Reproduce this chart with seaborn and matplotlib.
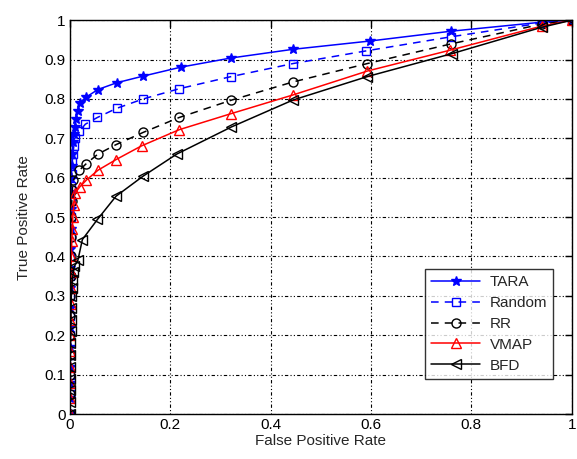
import numpy as np
import matplotlib
matplotlib.use("Agg")
import matplotlib.pyplot as plt
import seaborn as sns

# ROC points (dense threshold points near FPR = 0)
tara_fpr = [0, 0.0001, 0.0002, 0.0003, 0.0004, 0.0005, 0.0006, 0.0008, 0.001, 0.0012, 0.0015, 0.002,
            0.0025, 0.003, 0.004, 0.005, 0.006, 0.008, 0.01, 0.012, 0.016, 0.02,
            0.033, 0.056, 0.093, 0.146, 0.222, 0.321, 0.444, 0.597, 0.759, 0.94, 1.0]
tara_tpr = [0, 0.04, 0.08, 0.12, 0.17, 0.22, 0.27, 0.32, 0.37, 0.42, 0.47, 0.52,
            0.56, 0.6, 0.63, 0.66, 0.69, 0.71, 0.73, 0.75, 0.77, 0.79,
            0.805, 0.824, 0.841, 0.858, 0.881, 0.904, 0.926, 0.947, 0.972, 0.995, 1.0]

random_fpr = [0, 0.0001, 0.0002, 0.0003, 0.0004, 0.0006, 0.0008, 0.001, 0.0013, 0.0016, 0.002, 0.0025,
              0.003, 0.004, 0.005, 0.006, 0.008, 0.01,
              0.019, 0.031, 0.055, 0.093, 0.146, 0.218, 0.322, 0.445, 0.59, 0.76, 0.94, 1.0]
random_tpr = [0, 0.05, 0.1, 0.15, 0.2, 0.25, 0.3, 0.35, 0.4, 0.45, 0.5, 0.54,
              0.58, 0.61, 0.64, 0.66, 0.68, 0.70,
              0.718, 0.736, 0.753, 0.776, 0.80, 0.826, 0.857, 0.89, 0.922, 0.958, 0.993, 1.0]

rr_fpr = [0, 0.0002, 0.0004, 0.0006, 0.0008, 0.001, 0.0013, 0.0016, 0.002, 0.0025, 0.003, 0.004,
          0.005, 0.007,
          0.019, 0.033, 0.056, 0.092, 0.146, 0.218, 0.322, 0.444, 0.593, 0.76, 0.94, 1.0]
rr_tpr = [0, 0.05, 0.1, 0.15, 0.2, 0.25, 0.3, 0.35, 0.4, 0.45, 0.5, 0.54,
          0.57, 0.594,
          0.619, 0.636, 0.66, 0.684, 0.715, 0.753, 0.797, 0.843, 0.89, 0.94, 0.99, 1.0]

vmap_fpr = [0, 0.0002, 0.0004, 0.0006, 0.0008, 0.001, 0.0013, 0.0016, 0.002, 0.0025, 0.003, 0.004,
            0.005, 0.006, 0.008, 0.01,
            0.02, 0.033, 0.056, 0.092, 0.143, 0.218, 0.322, 0.444, 0.593, 0.758, 0.94, 1.0]
vmap_tpr = [0, 0.04, 0.08, 0.12, 0.16, 0.2, 0.24, 0.28, 0.32, 0.36, 0.4, 0.44,
            0.47, 0.5, 0.53, 0.56,
            0.577, 0.594, 0.619, 0.646, 0.681, 0.722, 0.763, 0.81, 0.871, 0.924, 0.985, 1.0]

bfd_fpr = [0, 0.0002, 0.0004, 0.0006, 0.0008, 0.001, 0.0013, 0.0016, 0.002, 0.0025, 0.003, 0.004,
           0.005, 0.007, 0.009,
           0.016, 0.025, 0.055, 0.092, 0.146, 0.213, 0.322, 0.444, 0.593, 0.761, 0.94, 1.0]
bfd_tpr = [0, 0.03, 0.06, 0.09, 0.12, 0.15, 0.18, 0.21, 0.24, 0.27, 0.3, 0.32,
           0.34, 0.36, 0.375,
           0.39, 0.443, 0.494, 0.553, 0.604, 0.66, 0.729, 0.797, 0.857, 0.915, 0.982, 1.0]

sns.set_theme(style="white")
plt.rcParams['font.family'] = ['Liberation Sans', 'DejaVu Sans']

fig = plt.figure(figsize=(5.77, 4.59), dpi=100)
ax = fig.add_axes([0.121, 0.098, 0.870, 0.858])

series = [
    (tara_fpr, tara_tpr, "TARA", "#0000ff", "*", "-", 7.5, "#0000ff"),
    (random_fpr, random_tpr, "Random", "#0000ff", "s", (0, (5, 4)), 6, "none"),
    (rr_fpr, rr_tpr, "RR", "black", "o", (0, (5, 4)), 6.5, "none"),
    (vmap_fpr, vmap_tpr, "VMAP", "#ff0000", "^", "-", 6.5, "none"),
    (bfd_fpr, bfd_tpr, "BFD", "black", "<", "-", 6.5, "none"),
]
for xs, ys, name, col, mk, ls, ms, fc in series:
    sns.lineplot(x=xs, y=ys, ax=ax, sort=False, estimator=None, color=col, label=name,
                 linestyle=ls, linewidth=1.1, marker=mk, markersize=ms,
                 markerfacecolor=fc, markeredgecolor=col, markeredgewidth=1.0)

ax.set_xlim(0, 1)
ax.set_ylim(0, 1)
ax.set_xticks(np.arange(0, 1.01, 0.2))
ax.set_yticks(np.arange(0, 1.01, 0.1))
ax.set_xticklabels(["0", "0.2", "0.4", "0.6", "0.8", "1"])
ax.set_yticklabels(["0"] + [f"{v:.1f}" for v in np.arange(0.1, 0.95, 0.1)] + ["1"])
ax.grid(True, color="black", linestyle=(0, (1, 2, 1, 2, 3, 2)), linewidth=0.8)
for s in ax.spines.values():
    s.set_color("black")
    s.set_linewidth(1.0)
ax.tick_params(direction="in", length=5, width=1, color="black", labelsize=11,
               labelcolor="black", top=True, right=True, pad=3)
ax.set_xlabel("False Positive Rate", fontsize=11, labelpad=1)
ax.set_ylabel("True Positive Rate", fontsize=11, labelpad=10)

leg = ax.legend(loc="lower right", bbox_to_anchor=(0.978, 0.07), fontsize=11, frameon=True,
                fancybox=False, edgecolor="black", handlelength=3.2, borderpad=0.4,
                labelspacing=0.45, handletextpad=0.6, numpoints=1)
leg.get_frame().set_linewidth(1.0)

fig.savefig("out.png", dpi=100)
